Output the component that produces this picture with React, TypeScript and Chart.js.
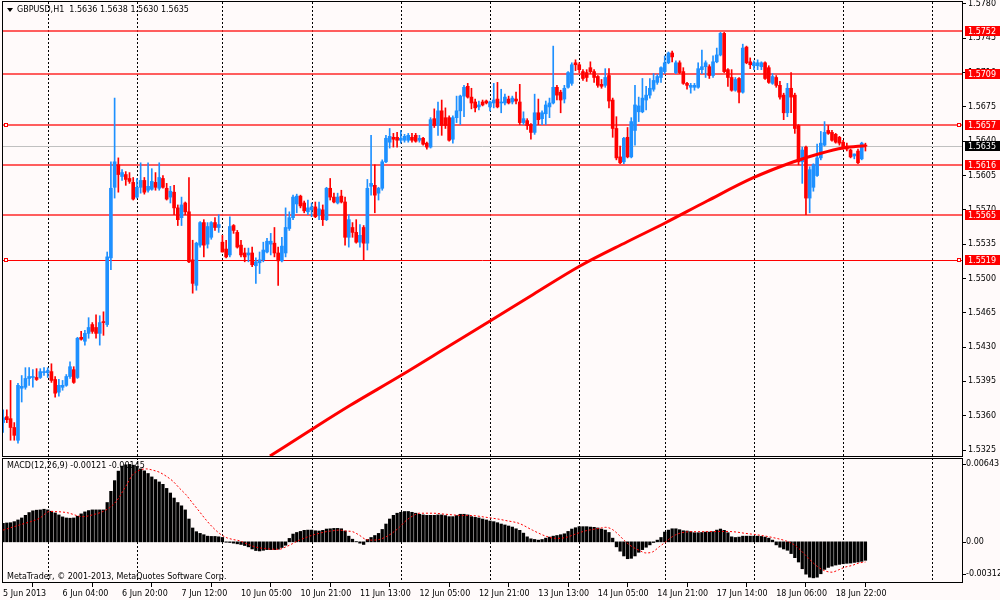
import { useEffect, useRef } from 'react';
import { Chart, registerables } from 'chart.js';

Chart.register(...registerables);

// ---------- texts ----------
const SYMBOL_TITLE = 'GBPUSD,H1  1.5636 1.5638 1.5630 1.5635';
const MACD_TITLE = 'MACD(12,26,9) -0.00121 -0.00145';
const COPYRIGHT = 'MetaTrader, \u00A9 2001-2013, MetaQuotes Software Corp.';

// ---------- H1 candles (bar 0 = 5 Jun 2013 12:00) ----------
const opens = [
  1.5353,1.5359,1.5357,1.5348,1.5335,1.5388,1.5389,1.5398,1.5399,1.5399,
  1.5399,1.5404,1.5404,1.5405,1.5397,1.5384,1.5389,1.5391,1.5400,1.5407,
  1.5399,1.5440,1.5436,1.5444,1.5453,1.5450,1.5444,1.5456,1.5453,1.5521,
  1.5593,1.5616,1.5604,1.5606,1.5602,1.5598,1.5583,1.5593,1.5600,1.5590,
  1.5591,1.5598,1.5592,1.5602,1.5592,1.5583,1.5588,1.5572,1.5562,1.5577,
  1.5568,1.5519,1.5493,1.5534,1.5557,1.5535,1.5542,1.5557,1.5552,1.5537,
  1.5530,1.5524,1.5554,1.5547,1.5534,1.5526,1.5524,1.5526,1.5513,1.5516,
  1.5519,1.5527,1.5535,1.5536,1.5526,1.5518,1.5526,1.5551,1.5562,1.5576,
  1.5584,1.5577,1.5568,1.5570,1.5573,1.5565,1.5570,1.5560,1.5592,1.5583,
  1.5577,1.5584,1.5578,1.5542,1.5552,1.5547,1.5537,1.5552,1.5536,1.5594,
  1.5595,1.5587,1.5592,1.5619,1.5639,1.5644,1.5644,1.5641,1.5641,1.5641,
  1.5644,1.5646,1.5641,1.5643,1.5638,1.5634,1.5663,1.5656,1.5671,1.5664,
  1.5664,1.5642,1.5664,1.5671,1.5686,1.5696,1.5685,1.5680,1.5675,1.5680,
  1.5681,1.5675,1.5679,1.5683,1.5679,1.5679,1.5683,1.5680,1.5683,1.5680,
  1.5659,1.5661,1.5657,1.5649,1.5669,1.5663,1.5668,1.5675,1.5679,1.5695,
  1.5690,1.5683,1.5695,1.5699,1.5720,1.5718,1.5711,1.5710,1.5715,1.5711,
  1.5706,1.5698,1.5697,1.5707,1.5682,1.5653,1.5624,1.5619,1.5644,1.5624,
  1.5651,1.5670,1.5670,1.5682,1.5687,1.5693,1.5700,1.5705,1.5711,1.5720,
  1.5730,1.5710,1.5720,1.5711,1.5699,1.5695,1.5695,1.5695,1.5713,1.5716,
  1.5716,1.5707,1.5721,1.5728,1.5750,1.5713,1.5705,1.5692,1.5704,1.5690,
  1.5736,1.5721,1.5717,1.5717,1.5716,1.5720,1.5715,1.5699,1.5705,1.5697,
  1.5687,1.5669,1.5694,1.5687,1.5656,1.5619,1.5634,1.5582,1.5593,1.5605,
  1.5623,1.5636,1.5651,1.5649,1.5647,1.5644,1.5639,1.5635,1.5631,1.5625,
  1.5630,1.5622,1.5636,
];
const highs = [
  1.5366,1.5366,1.5396,1.5353,1.5393,1.5401,1.5409,1.5409,1.5407,1.5408,
  1.5408,1.5409,1.5409,1.5413,1.5400,1.5397,1.5396,1.5402,1.5415,1.5410,
  1.5440,1.5446,1.5447,1.5460,1.5455,1.5463,1.5462,1.5466,1.5527,1.5619,
  1.5684,1.5623,1.5611,1.5609,1.5608,1.5603,1.5602,1.5618,1.5603,1.5618,
  1.5612,1.5608,1.5618,1.5605,1.5597,1.5594,1.5595,1.5575,1.5583,1.5578,
  1.5603,1.5539,1.5537,1.5558,1.5560,1.5557,1.5558,1.5562,1.5565,1.5544,
  1.5539,1.5563,1.5555,1.5549,1.5539,1.5531,1.5531,1.5532,1.5521,1.5527,
  1.5537,1.5541,1.5546,1.5552,1.5532,1.5542,1.5572,1.5568,1.5585,1.5586,
  1.5585,1.5579,1.5580,1.5577,1.5578,1.5578,1.5575,1.5593,1.5602,1.5587,
  1.5587,1.5590,1.5583,1.5565,1.5557,1.5560,1.5555,1.5554,1.5601,1.5646,
  1.5616,1.5593,1.5621,1.5646,1.5653,1.5648,1.5649,1.5651,1.5647,1.5648,
  1.5648,1.5648,1.5646,1.5644,1.5639,1.5664,1.5673,1.5680,1.5682,1.5674,
  1.5666,1.5666,1.5686,1.5687,1.5697,1.5699,1.5694,1.5683,1.5681,1.5682,
  1.5682,1.5681,1.5699,1.5700,1.5693,1.5688,1.5686,1.5686,1.5690,1.5698,
  1.5670,1.5663,1.5658,1.5688,1.5683,1.5671,1.5681,1.5684,1.5737,1.5697,
  1.5692,1.5697,1.5711,1.5720,1.5723,1.5720,1.5713,1.5713,1.5721,1.5713,
  1.5707,1.5703,1.5714,1.5714,1.5684,1.5665,1.5635,1.5644,1.5654,1.5664,
  1.5697,1.5685,1.5704,1.5696,1.5704,1.5709,1.5708,1.5716,1.5727,1.5731,
  1.5732,1.5722,1.5722,1.5715,1.5700,1.5699,1.5699,1.5720,1.5733,1.5722,
  1.5718,1.5727,1.5735,1.5751,1.5751,1.5714,1.5713,1.5705,1.5705,1.5739,
  1.5737,1.5725,1.5722,1.5723,1.5721,1.5721,1.5717,1.5709,1.5707,1.5701,
  1.5689,1.5699,1.5710,1.5689,1.5657,1.5634,1.5635,1.5614,1.5617,1.5637,
  1.5650,1.5660,1.5656,1.5651,1.5648,1.5645,1.5641,1.5638,1.5632,1.5627,
  1.5632,1.5639,1.5638,
];
const lows = [
  1.5343,1.5353,1.5335,1.5335,1.5332,1.5374,1.5387,1.5391,1.5389,1.5396,
  1.5398,1.5401,1.5399,1.5394,1.5379,1.5380,1.5386,1.5390,1.5398,1.5393,
  1.5398,1.5437,1.5432,1.5439,1.5444,1.5439,1.5432,1.5442,1.5451,1.5509,
  1.5582,1.5588,1.5600,1.5595,1.5597,1.5580,1.5582,1.5587,1.5586,1.5588,
  1.5590,1.5590,1.5590,1.5592,1.5580,1.5577,1.5565,1.5554,1.5554,1.5565,
  1.5516,1.5485,1.5488,1.5532,1.5522,1.5531,1.5540,1.5549,1.5547,1.5527,
  1.5521,1.5522,1.5546,1.5531,1.5522,1.5517,1.5517,1.5512,1.5495,1.5505,
  1.5517,1.5526,1.5524,1.5522,1.5493,1.5517,1.5522,1.5549,1.5560,1.5567,
  1.5572,1.5567,1.5565,1.5563,1.5562,1.5560,1.5554,1.5559,1.5580,1.5577,
  1.5576,1.5577,1.5534,1.5532,1.5542,1.5536,1.5532,1.5519,1.5529,1.5585,
  1.5567,1.5580,1.5590,1.5618,1.5633,1.5634,1.5634,1.5638,1.5639,1.5639,
  1.5639,1.5639,1.5639,1.5636,1.5632,1.5633,1.5654,1.5646,1.5646,1.5653,
  1.5640,1.5638,1.5659,1.5657,1.5665,1.5684,1.5673,1.5670,1.5672,1.5676,
  1.5678,1.5671,1.5674,1.5674,1.5669,1.5677,1.5678,1.5678,1.5678,1.5657,
  1.5657,1.5652,1.5642,1.5647,1.5657,1.5657,1.5657,1.5664,1.5678,1.5682,
  1.5669,1.5679,1.5694,1.5697,1.5712,1.5710,1.5702,1.5701,1.5709,1.5700,
  1.5695,1.5694,1.5695,1.5674,1.5644,1.5621,1.5617,1.5617,1.5623,1.5623,
  1.5636,1.5660,1.5669,1.5672,1.5684,1.5691,1.5698,1.5700,1.5709,1.5719,
  1.5721,1.5709,1.5709,1.5698,1.5693,1.5689,1.5692,1.5694,1.5709,1.5705,
  1.5704,1.5705,1.5720,1.5727,1.5710,1.5696,1.5691,1.5691,1.5679,1.5689,
  1.5719,1.5714,1.5713,1.5713,1.5713,1.5703,1.5699,1.5698,1.5695,1.5683,
  1.5662,1.5665,1.5669,1.5648,1.5616,1.5597,1.5565,1.5567,1.5589,1.5604,
  1.5621,1.5635,1.5647,1.5640,1.5638,1.5636,1.5632,1.5630,1.5623,1.5622,
  1.5617,1.5621,1.5630,
];
const closes = [
  1.5358,1.5356,1.5348,1.5340,1.5391,1.5390,1.5398,1.5400,1.5400,1.5397,
  1.5405,1.5405,1.5406,1.5396,1.5383,1.5391,1.5391,1.5400,1.5410,1.5394,
  1.5439,1.5438,1.5444,1.5450,1.5446,1.5444,1.5455,1.5455,1.5522,1.5592,
  1.5619,1.5606,1.5608,1.5601,1.5599,1.5581,1.5593,1.5600,1.5588,1.5594,
  1.5599,1.5593,1.5603,1.5593,1.5581,1.5589,1.5572,1.5560,1.5575,1.5568,
  1.5517,1.5495,1.5536,1.5557,1.5534,1.5553,1.5557,1.5552,1.5555,1.5527,
  1.5522,1.5553,1.5549,1.5532,1.5524,1.5522,1.5526,1.5514,1.5517,1.5519,
  1.5529,1.5538,1.5538,1.5526,1.5518,1.5533,1.5552,1.5562,1.5583,1.5584,
  1.5574,1.5569,1.5572,1.5573,1.5563,1.5571,1.5560,1.5592,1.5583,1.5578,
  1.5583,1.5578,1.5542,1.5560,1.5547,1.5537,1.5544,1.5536,1.5592,1.5597,
  1.5585,1.5592,1.5619,1.5643,1.5645,1.5642,1.5641,1.5643,1.5645,1.5646,
  1.5641,1.5640,1.5643,1.5637,1.5634,1.5662,1.5656,1.5671,1.5656,1.5656,
  1.5641,1.5664,1.5671,1.5686,1.5695,1.5685,1.5679,1.5674,1.5677,1.5677,
  1.5679,1.5680,1.5682,1.5675,1.5680,1.5685,1.5679,1.5684,1.5681,1.5659,
  1.5663,1.5656,1.5649,1.5669,1.5662,1.5669,1.5677,1.5679,1.5695,1.5687,
  1.5682,1.5694,1.5710,1.5718,1.5718,1.5713,1.5704,1.5705,1.5711,1.5705,
  1.5697,1.5696,1.5705,1.5681,1.5653,1.5623,1.5618,1.5643,1.5624,1.5660,
  1.5677,1.5676,1.5684,1.5687,1.5694,1.5702,1.5706,1.5715,1.5720,1.5730,
  1.5726,1.5720,1.5710,1.5699,1.5697,1.5697,1.5697,1.5714,1.5716,1.5720,
  1.5707,1.5721,1.5728,1.5750,1.5711,1.5705,1.5692,1.5703,1.5690,1.5735,
  1.5720,1.5718,1.5720,1.5720,1.5720,1.5704,1.5700,1.5706,1.5697,1.5685,
  1.5669,1.5694,1.5685,1.5653,1.5619,1.5631,1.5582,1.5611,1.5616,1.5623,
  1.5638,1.5649,1.5648,1.5641,1.5639,1.5638,1.5633,1.5632,1.5624,1.5627,
  1.5618,1.5638,1.5635,
];

// ---------- MACD(12,26,9) ----------
const macdHist = [
  0.00140,0.00143,0.00145,0.00153,0.00166,0.00181,0.00201,0.00222,0.00235,0.00240,
  0.00242,0.00247,0.00242,0.00232,0.00219,0.00204,0.00189,0.00181,0.00179,0.00181,
  0.00194,0.00212,0.00227,0.00237,0.00242,0.00242,0.00242,0.00242,0.00298,0.00383,
  0.00464,0.00536,0.00574,0.00584,0.00587,0.00581,0.00571,0.00553,0.00538,0.00518,
  0.00492,0.00472,0.00454,0.00436,0.00405,0.00370,0.00332,0.00298,0.00273,0.00242,
  0.00173,0.00105,0.00077,0.00064,0.00054,0.00043,0.00041,0.00041,0.00038,0.00033,
  -0.00003,-0.00005,-0.00010,-0.00015,-0.00020,-0.00028,-0.00038,-0.00054,-0.00066,-0.00069,
  -0.00064,-0.00059,-0.00059,-0.00059,-0.00056,-0.00043,-0.00026,0.00026,0.00059,0.00071,
  0.00079,0.00087,0.00089,0.00089,0.00084,0.00082,0.00087,0.00097,0.00099,0.00102,
  0.00102,0.00099,0.00082,0.00043,0.00020,0.00002,-0.00010,-0.00020,0.00018,0.00033,
  0.00048,0.00064,0.00094,0.00135,0.00173,0.00201,0.00217,0.00224,0.00230,0.00230,
  0.00224,0.00217,0.00209,0.00204,0.00201,0.00201,0.00201,0.00204,0.00204,0.00199,
  0.00191,0.00191,0.00199,0.00209,0.00209,0.00204,0.00191,0.00186,0.00181,0.00173,
  0.00166,0.00158,0.00153,0.00145,0.00135,0.00128,0.00120,0.00112,0.00099,0.00087,
  0.00066,0.00038,0.00023,0.00018,0.00013,0.00018,0.00028,0.00036,0.00043,0.00048,
  0.00054,0.00061,0.00079,0.00097,0.00107,0.00115,0.00115,0.00115,0.00112,0.00110,
  0.00105,0.00097,0.00089,0.00071,0.00028,-0.00038,-0.00071,-0.00107,-0.00128,-0.00125,
  -0.00107,-0.00079,-0.00059,-0.00041,-0.00023,-0.00005,0.00013,0.00033,0.00074,0.00089,
  0.00099,0.00099,0.00092,0.00084,0.00082,0.00077,0.00069,0.00069,0.00071,0.00074,
  0.00074,0.00077,0.00089,0.00097,0.00087,0.00069,0.00038,0.00033,0.00036,0.00043,
  0.00043,0.00043,0.00043,0.00043,0.00041,0.00036,0.00028,0.00013,-0.00023,-0.00041,
  -0.00054,-0.00064,-0.00089,-0.00120,-0.00153,-0.00204,-0.00245,-0.00268,-0.00273,-0.00268,
  -0.00242,-0.00209,-0.00194,-0.00184,-0.00176,-0.00171,-0.00166,-0.00163,-0.00161,-0.00156,
  -0.00153,-0.00148,-0.00140,
];
const signalIdx = [
  0,4.4,9.8,12.5,17,21.5,24,27.7,30.4,33,34.9,36.7,38.5,40.3,42,43.9,45.7,47.4,49.2,51,
  52.8,54.6,56.4,58.2,60,61.8,63.6,65.4,67.2,69,70.7,72.5,74.3,76.1,77.9,79.7,81.5,83.3,85,86.9,
  88.7,90.5,92.2,94,95.8,97.6,99.4,101.2,103,104.8,106.6,108.4,110.2,112,115.5,119.1,122.7,126.3,129.9,133.5,
  135.3,138.8,142.4,146,148.7,151.4,154,156.8,160.4,162.1,163.9,165.7,167.5,169.3,171.1,172.9,174.7,176.5,178.3,180,
  181.9,185.4,189,192.6,196.2,199.8,203.4,207,210.5,212.3,214.1,215.9,217.7,219.5,221.3,223,224.8,226.6,228.4,230.2,232,
];
const signalVal = [
  0.00089,0.00128,0.00179,0.00230,0.00222,0.00191,0.00204,0.00242,0.00306,0.00421,0.00510,0.00543,0.00553,0.00543,0.00528,0.00497,0.00459,0.00408,0.00357,0.00293,
  0.00230,0.00166,0.00110,0.00064,0.00033,0.00018,0.00008,-0.00013,-0.00033,-0.00046,-0.00051,-0.00056,-0.00056,-0.00038,-0.00013,0.00013,0.00033,0.00051,0.00064,0.00077,
  0.00084,0.00089,0.00082,0.00077,0.00051,0.00018,0.00013,0.00018,0.00038,0.00069,0.00110,0.00161,0.00196,0.00217,0.00217,0.00209,0.00201,0.00199,0.00186,0.00171,
  0.00161,0.00140,0.00089,0.00043,0.00026,0.00033,0.00059,0.00084,0.00102,0.00110,0.00094,0.00051,0,-0.00038,-0.00064,-0.00084,-0.00077,-0.00038,0,0.00038,
  0.00064,0.00077,0.00077,0.00079,0.00077,0.00064,0.00051,0.00033,0.00008,-0.00013,-0.00051,-0.00102,-0.00153,-0.00196,-0.00222,-0.00230,-0.00212,-0.00191,-0.00179,-0.00161,-0.00153,
];

// ---------- moving average (red, thick) ----------
const maIdx = [71.8,83.0,93.3,107.0,120.2,131.0,142.6,155.2,167.8,178.1,189.4,201.7,212.5,219.8,226.0,232];
const maVal = [1.53189,1.53460,1.53704,1.54010,1.54316,1.54566,1.54837,1.55127,1.55372,1.55566,1.55790,1.56025,1.56188,1.56275,1.56331,1.56354];

// ---------- axes ----------
const xTickIdx = [0,16,32,48,64,80,96,112,128,144,160,176,192,208,224];
const xTickLabels = [
  '5 Jun 2013','6 Jun 04:00','6 Jun 20:00','7 Jun 12:00','10 Jun 05:00','10 Jun 21:00',
  '11 Jun 13:00','12 Jun 05:00','12 Jun 21:00','13 Jun 13:00','14 Jun 05:00','14 Jun 21:00',
  '17 Jun 14:00','18 Jun 06:00','18 Jun 22:00',
];
const dayStartIdx = [12,36,59,83,107,131,155,178,202,226,250];
const yTicks = [1.5325,1.5360,1.5395,1.5430,1.5465,1.5500,1.5535,1.5570,1.5605,1.5640,1.5675,1.5710,1.5745,1.5780];
const macdTicks = [0.00643, 0, -0.00312];

// ---------- horizontal levels ----------
const levels = [1.5752, 1.5709, 1.5657, 1.5616, 1.5565, 1.5519];
const levelMarked = [false, false, true, false, false, true];
const lastPrice = 1.5635;

// view ranges
const X_MIN = -0.3;
const X_MAX = 258.25;
const Y_MIN = 1.53179;
const Y_MAX = 1.5782;
const M_MIN = -0.00312;
const M_MAX = 0.00643;

const BG = '#FFFAFA';
const BULL = '#1E90FF';
const BEAR = '#FF0000';
const FONT = 'DejaVu Sans';

const mtPlugin = {
  id: 'mt4',
  beforeDraw(chart: any) {
    const { ctx, width, height } = chart;
    ctx.save();
    ctx.fillStyle = BG;
    ctx.fillRect(0, 0, width, height);
    ctx.restore();
  },
  beforeDatasetsDraw(chart: any) {
    const { ctx, chartArea } = chart;
    const xs = chart.scales.x;
    const ys = chart.scales.y;
    const y2 = chart.scales.y2;
    ctx.save();
    ctx.lineWidth = 1;
    ctx.strokeStyle = '#000';
    ctx.setLineDash([2, 2]);
    for (const d of dayStartIdx) {
      const px = Math.round(xs.getPixelForValue(d)) + 0.5;
      if (px > chartArea.right) continue;
      ctx.beginPath();
      ctx.moveTo(px, ys.top);
      ctx.lineTo(px, y2.bottom);
      ctx.stroke();
    }
    ctx.setLineDash([]);
    // last price line
    const lp = Math.round(ys.getPixelForValue(lastPrice)) + 0.5;
    ctx.strokeStyle = '#C0C0C0';
    ctx.beginPath();
    ctx.moveTo(chartArea.left, lp);
    ctx.lineTo(chartArea.right, lp);
    ctx.stroke();
    // levels
    levels.forEach((lv, k) => {
      const py = Math.round(ys.getPixelForValue(lv));
      if (levelMarked[k] && k === levels.length - 1) {
        ctx.strokeStyle = '#FF0000';
        ctx.lineWidth = 1;
        ctx.beginPath();
        ctx.moveTo(chartArea.left, py + 0.5);
        ctx.lineTo(chartArea.right, py + 0.5);
        ctx.stroke();
      } else {
        ctx.strokeStyle = 'rgba(255,40,40,0.75)';
        ctx.lineWidth = 2;
        ctx.beginPath();
        ctx.moveTo(chartArea.left, py);
        ctx.lineTo(chartArea.right, py);
        ctx.stroke();
      }
    });
    ctx.restore();
  },
  afterDatasetsDraw(chart: any) {
    const { ctx, chartArea } = chart;
    const ys = chart.scales.y;
    const y2 = chart.scales.y2;
    ctx.save();
    // gap between panels
    ctx.fillStyle = BG;
    ctx.fillRect(chartArea.left, ys.bottom - 0.5, chartArea.right - chartArea.left, 2);
    ctx.strokeStyle = '#000';
    ctx.lineWidth = 1;
    const l = chartArea.left + 0.5;
    const r = chartArea.right - 0.5;
    ctx.strokeRect(l, ys.top - 0.5, r - l, ys.bottom - ys.top);
    ctx.strokeRect(l, y2.top + 1.5, r - l, y2.bottom - y2.top - 2);
    // markers on levels
    levels.forEach((lv, k) => {
      if (!levelMarked[k]) return;
      const py = Math.round(ys.getPixelForValue(lv));
      ctx.fillStyle = BG;
      ctx.strokeStyle = '#FF0000';
      for (const x0 of [chartArea.left + 2, chartArea.right - 6]) {
        ctx.fillRect(x0 + 0.5, py - 1.5, 3, 3);
        ctx.strokeRect(x0 + 0.5, py - 1.5, 3, 3);
      }
    });
    ctx.restore();
  },
  afterDraw(chart: any) {
    const { ctx, chartArea } = chart;
    const ys = chart.scales.y;
    const y2 = chart.scales.y2;
    ctx.save();
    ctx.font = `8px "${FONT}"`;
    ctx.textBaseline = 'middle';
    ctx.textAlign = 'left';
    const bx = chartArea.right + 2;
    // level label boxes
    levels.forEach((lv) => {
      const py = Math.round(ys.getPixelForValue(lv));
      ctx.fillStyle = '#FF0000';
      ctx.fillRect(bx, py - 5, 35, 10);
      ctx.fillStyle = '#FFFFFF';
      ctx.fillText(lv.toFixed(4), bx + 3, py + 0.5);
    });
    const lp = Math.round(ys.getPixelForValue(lastPrice));
    ctx.fillStyle = '#000000';
    ctx.fillRect(bx, lp - 5, 35, 10);
    ctx.fillStyle = '#FFFFFF';
    ctx.fillText(lastPrice.toFixed(4), bx + 3, lp + 0.5);

    // MACD axis labels
    ctx.fillStyle = '#000';
    ctx.strokeStyle = '#000';
    macdTicks.forEach((v) => {
      const py = y2.getPixelForValue(v);
      const label = v === 0 ? '0.00' : v.toFixed(5);
      let ty = py;
      if (v === M_MAX) ty = py + 7;
      if (v === M_MIN) ty = py - 9;
      ctx.beginPath();
      ctx.moveTo(chartArea.right, Math.round(ty) + 0.5);
      ctx.lineTo(chartArea.right + 3, Math.round(ty) + 0.5);
      ctx.stroke();
      ctx.fillText(label, chartArea.right + 3, ty);
    });

    // header
    ctx.fillStyle = '#000';
    ctx.beginPath();
    ctx.moveTo(chartArea.left + 5, 8);
    ctx.lineTo(chartArea.left + 11, 8);
    ctx.lineTo(chartArea.left + 8, 12);
    ctx.closePath();
    ctx.fill();
    ctx.fillText(SYMBOL_TITLE, chartArea.left + 15, 10);
    ctx.fillText(MACD_TITLE, chartArea.left + 5, y2.top + 9);
    ctx.fillText(COPYRIGHT, chartArea.left + 5, y2.bottom - 6);
    ctx.restore();
  },
};

export default function App() {
  const ref = useRef<HTMLCanvasElement | null>(null);

  useEffect(() => {
    document.body.style.margin = '0';
    document.body.style.background = BG;
    const canvas = ref.current;
    if (!canvas) return;
    const idx = opens.map((_, i) => i);
    const colors = idx.map((i) => (closes[i] >= opens[i] ? BULL : BEAR));

    const chart = new Chart(canvas, {
      type: 'bar',
      data: {
        datasets: [
          {
            type: 'line',
            label: 'MA',
            data: maIdx.map((x, k) => ({ x, y: maVal[k] })),
            borderColor: '#FF0000',
            borderWidth: 3,
            pointRadius: 0,
            cubicInterpolationMode: 'monotone',
            yAxisID: 'y',
            order: 0,
          } as any,
          {
            type: 'bar',
            label: 'Body',
            data: idx.map((i) => ({ x: i, y: [opens[i], closes[i]] })),
            backgroundColor: colors,
            barThickness: 3,
            minBarLength: 1,
            grouped: false,
            borderWidth: 0,
            yAxisID: 'y',
            order: 1,
          } as any,
          {
            type: 'bar',
            label: 'Wick',
            data: idx.map((i) => ({ x: i, y: [lows[i], highs[i]] })),
            backgroundColor: colors,
            barThickness: 1,
            grouped: false,
            borderWidth: 0,
            yAxisID: 'y',
            order: 2,
          } as any,
          {
            type: 'bar',
            label: 'MACD',
            data: idx.map((i) => ({ x: i, y: macdHist[i] })),
            backgroundColor: '#000000',
            barThickness: 2.6,
            grouped: false,
            borderWidth: 0,
            yAxisID: 'y2',
            order: 3,
          } as any,
          {
            type: 'line',
            label: 'Signal',
            data: signalIdx.map((x, k) => ({ x, y: signalVal[k] })),
            borderColor: '#FF0000',
            borderWidth: 1,
            borderDash: [2, 2],
            pointRadius: 0,
            cubicInterpolationMode: 'monotone',
            yAxisID: 'y2',
            order: 0,
          } as any,
        ],
      },
      options: {
        animation: false,
        responsive: true,
        maintainAspectRatio: false,
        events: [],
        layout: { padding: { left: 2, top: 2, right: 0, bottom: 0 } },
        plugins: { legend: { display: false }, tooltip: { enabled: false } },
        scales: {
          x: {
            type: 'linear',
            min: X_MIN,
            max: X_MAX,
            offset: false,
            afterBuildTicks: (s: any) => {
              s.ticks = xTickIdx.map((v) => ({ value: v }));
            },
            afterFit: (s: any) => {
              s.height = 17;
              s.paddingLeft = 0;
              s.paddingRight = 0;
            },
            ticks: {
              autoSkip: false,
              maxRotation: 0,
              minRotation: 0,
              align: 'start',
              padding: 2,
              color: '#000',
              font: { family: FONT, size: 8 },
              callback: (_v: any, i: number) => xTickLabels[i],
            },
            grid: { drawOnChartArea: false, drawTicks: true, tickLength: 4, color: '#000' },
            border: { display: false },
          },
          y: {
            type: 'linear',
            position: 'right',
            stack: 'panes',
            stackWeight: 455,
            min: Y_MIN,
            max: Y_MAX,
            afterBuildTicks: (s: any) => {
              s.ticks = yTicks.map((v) => ({ value: v }));
            },
            afterFit: (s: any) => {
              s.width = 37;
              s.paddingTop = 0;
              s.paddingBottom = 0;
            },
            ticks: {
              autoSkip: false,
              padding: 2,
              color: '#000',
              font: { family: FONT, size: 8 },
              callback: (v: any) => Number(v).toFixed(4),
            },
            grid: { drawOnChartArea: false, drawTicks: true, tickLength: 3, color: '#000' },
            border: { display: false },
          },
          y2: {
            type: 'linear',
            position: 'right',
            stack: 'panes',
            stackWeight: 126,
            min: M_MIN,
            max: M_MAX,
            afterFit: (s: any) => {
              s.width = 37;
              s.paddingTop = 0;
              s.paddingBottom = 0;
            },
            ticks: { display: false },
            grid: { display: false },
            border: { display: false },
          },
        },
      } as any,
      plugins: [mtPlugin],
    });
    return () => chart.destroy();
  }, []);

  return (
    <div style={{ width: 1000, height: 600, position: 'relative' }}>
      <canvas ref={ref} />
    </div>
  );
}
